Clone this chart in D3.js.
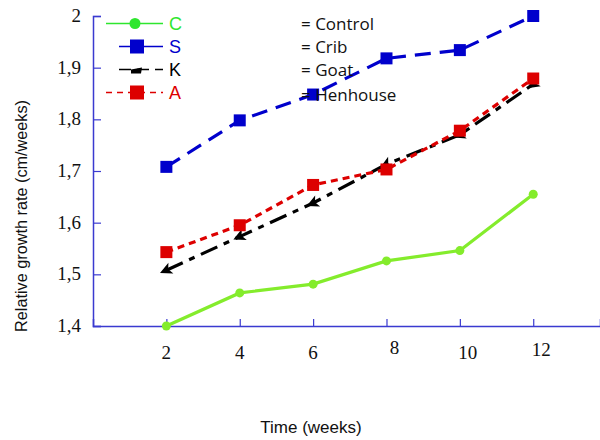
<!DOCTYPE html>
<html>
<head>
<meta charset="utf-8">
<script src="https://cdn.jsdelivr.net/npm/d3@7.9.0/dist/d3.min.js"></script>
<style>
  html, body { margin: 0; padding: 0; background: #fff; }
  svg { display: block; }
</style>
</head>
<body>
<svg id="chart" width="600" height="440"></svg>
<script>
const weeks   = [2, 4, 6, 8, 10, 12];
const control = [1.400, 1.464, 1.481, 1.526, 1.546, 1.655];
const crib    = [1.708, 1.798, 1.848, 1.918, 1.934, 2.000];
const goat    = [1.508, 1.573, 1.638, 1.713, 1.770, 1.868];
const henhouse= [1.543, 1.595, 1.673, 1.703, 1.778, 1.879];
const codes   = ['C', 'S', 'K', 'A'];
const names   = ['Control', 'Crib', 'Goat', 'Henhouse'];
const yTicks  = [1.4, 1.5, 1.6, 1.7, 1.8, 1.9, 2];

const series = [
  { code: 'C', values: control,  color: '#84ec2c', legendColor: '#2ee62e', dash: null,      marker: 'circle' },
  { code: 'S', values: crib,     color: '#0000cc', legendColor: '#0000cc', dash: '16,9',    marker: 'square' },
  { code: 'K', values: goat,     color: '#000000', legendColor: '#000000', dash: '18,7,6,7', marker: 'arrow' },
  { code: 'A', values: henhouse, color: '#dd0000', legendColor: '#dd0000', dash: '7,5',     marker: 'square' }
];

const SERIF = "'Liberation Serif', 'Times New Roman', serif";
const SANS  = "'Liberation Sans', Arial, sans-serif";

const svg = d3.select('#chart');
const axisColor = '#3a3ad0';

const x = d3.scaleLinear().domain([0, 13.82]).range([93, 600]);
const y = d3.scaleLinear().domain([1.4, 2]).range([326, 16]);

// axes
const xAxis = svg.append('g').attr('transform', `translate(0,${y(1.4)})`)
  .call(d3.axisTop(x).tickValues(weeks).tickSize(7).tickFormat(''));
xAxis.select('.domain').attr('stroke', axisColor).attr('stroke-width', 1.5);
xAxis.selectAll('.tick line').attr('stroke', axisColor).attr('stroke-width', 1.2);

svg.append('g').selectAll('text')
  .data(weeks)
  .join('text')
    .style('font-family', SERIF)
    .attr('x', d => x(d) + (d >= 8 ? 8 : 0))
    .attr('y', d => d === 8 ? 354 : (d === 12 ? 356 : 359))
    .attr('text-anchor', 'middle')
    .attr('font-size', 19)
    .attr('fill', '#111')
    .text(d => d);

const yAxis = svg.append('g').attr('transform', `translate(${x(0)},0)`)
  .call(d3.axisRight(y).tickValues(yTicks).tickSize(8).tickFormat(''));
yAxis.select('.domain').attr('stroke', axisColor).attr('stroke-width', 1.5);
yAxis.selectAll('.tick line').attr('stroke', axisColor).attr('stroke-width', 1.2);

svg.append('g').selectAll('text')
  .data(yTicks)
  .join('text')
    .style('font-family', SERIF)
    .attr('x', 81)
    .attr('y', d => y(d) + 6)
    .attr('text-anchor', 'end')
    .attr('font-size', 19)
    .attr('fill', '#111')
    .text(d => d3.format('.1f')(d).replace('.', ',').replace(',0', ''));

// axis titles
svg.append('text')
  .attr('transform', `translate(27,${216}) rotate(-90)`)
  .attr('text-anchor', 'middle')
  .style('font-family', SANS)
  .attr('font-size', 16)
  .attr('textLength', 232)
  .attr('lengthAdjust', 'spacingAndGlyphs')
  .attr('fill', '#111')
  .text('Relative growth rate (cm/weeks)');

svg.append('text')
  .attr('x', 311).attr('y', 433)
  .attr('text-anchor', 'middle')
  .style('font-family', SANS)
  .attr('font-size', 17)
  .attr('fill', '#111')
  .text('Time (weeks)');

// lines
const line = d3.line().x(d => x(d[0])).y(d => y(d[1]));

function drawMarker(g, kind, cx, cy, color, angle) {
  if (kind === 'circle') {
    g.append('circle').attr('cx', cx).attr('cy', cy).attr('r', 4.5).attr('fill', color);
  } else if (kind === 'square') {
    g.append('rect').attr('x', cx - 6).attr('y', cy - 6).attr('width', 12).attr('height', 12).attr('fill', color);
  } else {
    g.append('path')
      .attr('d', 'M-7,0 L5,-6 L2,0 L5,6 Z')
      .attr('transform', `translate(${cx},${cy}) rotate(${angle})`)
      .attr('fill', color);
  }
}

series.forEach(s => {
  const pts = weeks.map((w, i) => [w, s.values[i]]);
  const g = svg.append('g');
  g.append('path')
    .attr('d', line(pts))
    .attr('fill', 'none')
    .attr('stroke', s.color)
    .attr('stroke-width', 3.2)
    .attr('stroke-dasharray', s.dash);
  pts.forEach((p, i) => {
    const q = i > 0 ? pts[i - 1] : pts[1];
    let ang = Math.atan2(y(q[1]) - y(p[1]), x(q[0]) - x(p[0])) * 180 / Math.PI;
    if (i === 0) ang += 180;
    drawMarker(g, s.marker, x(p[0]), y(p[1]), s.color, ang + 180);
  });
});

// legend
const legendY = d3.scaleBand().domain(codes).range([12, 104]);
const lg = svg.append('g');
series.forEach((s, i) => {
  const ly = legendY(s.code) + legendY.bandwidth() / 2;
  lg.append('line')
    .attr('x1', s.code === 'S' || s.code === 'K' ? 119 : 106).attr('x2', 163)
    .attr('y1', ly).attr('y2', ly)
    .attr('stroke', s.legendColor).attr('stroke-width', 1.5)
    .attr('stroke-dasharray', s.code === 'A' ? '6,5' : (s.code === 'K' ? '12,6' : null));
  if (s.marker === 'circle') {
    lg.append('circle').attr('cx', 135).attr('cy', ly).attr('r', 5.5).attr('fill', s.legendColor);
  } else if (s.marker === 'square') {
    lg.append('rect').attr('x', 130).attr('y', ly - 7).attr('width', 14).attr('height', 14).attr('fill', s.legendColor);
  } else {
    lg.append('path').attr('d', `M131,${ly} L142,${ly - 2} L141,${ly + 4} L131,${ly + 4} Z`).attr('fill', '#000');
  }
  lg.append('text')
    .attr('x', 169).attr('y', ly + 6)
    .style('font-family', SANS)
    .attr('font-size', 18)
    .attr('fill', s.legendColor)
    .text(s.code);
  lg.append('text')
    .attr('x', 301).attr('y', ly + 6 + (i === 3 ? 2 : 0))
    .style('font-family', "'Open Sans', 'Liberation Sans', sans-serif")
    .attr('font-size', 17)
    .attr('fill', '#111')
    .text('= ' + names[i]);
});
</script>
</body>
</html>
